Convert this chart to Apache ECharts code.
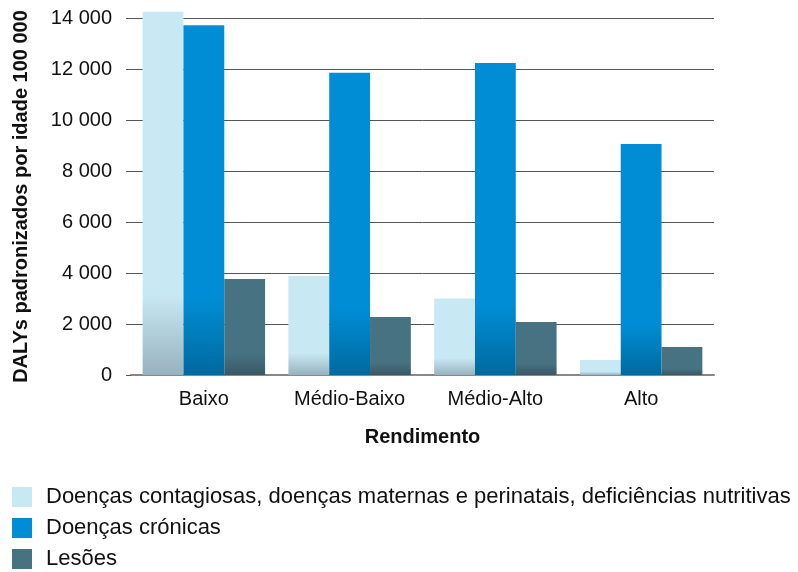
<!DOCTYPE html>
<html lang="pt">
<head>
    <meta charset="UTF-8">
    <title>DALYs por rendimento</title>
    <script src="https://cdn.jsdelivr.net/npm/echarts@6/dist/echarts.min.js"></script>
    <style>
        body { margin: 0; background: #fff; }
        #Chart1 { width: 798px; height: 572px; }
    </style>
</head>
<body>
<div id="Chart1"></div>
<script>
// data
var categories = ['Baixo', 'Médio-Baixo', 'Médio-Alto', 'Alto'];
var seriesNames = [
    'Doenças contagiosas, doenças maternas e perinatais, deficiências nutritivas',
    'Doenças crónicas',
    'Lesões'
];
var contagiosas = [14250, 3880, 3000, 590];
var cronicas = [13720, 11850, 12240, 9060];
var lesoes = [3760, 2270, 2080, 1100];
var yTicks = [0, 2000, 4000, 6000, 8000, 10000, 12000, 14000];

var topColors = ['#c8e8f4', '#008dd5', '#477282'];
var bottomColors = ['#98b2bf', '#006a9f', '#3a5866'];
var FONT = 'Liberation Sans, Arial, sans-serif';

function fade(i) {
    // bars darken in the bottom fifth
    return new echarts.graphic.LinearGradient(0, 0, 0, 1, [
        { offset: 0, color: topColors[i] },
        { offset: 0.78, color: topColors[i] },
        { offset: 1, color: bottomColors[i] }
    ]);
}

function fmt(v) {
    return String(v).replace(/\B(?=(\d{3})+(?!\d))/g, ' ');
}

var myChart1 = echarts.init(document.getElementById('Chart1'));
var values = [contagiosas, cronicas, lesoes];

var option = {
    backgroundColor: '#fff',
    animation: false,
    grid: { left: 131, right: 84, top: 18, bottom: 197 },
    legend: {
        orient: 'vertical',
        left: 12,
        top: 486,
        height: 150,
        padding: 0,
        icon: 'rect',
        itemWidth: 20,
        itemHeight: 20,
        itemGap: 9,
        textStyle: { fontFamily: FONT, fontSize: 22, lineHeight: 20, color: '#111', padding: [0, 0, 0, 9] },
        data: seriesNames.map(function (n, i) {
            return { name: n, itemStyle: { color: topColors[i] } };
        })
    },
    xAxis: {
        type: 'category',
        data: categories,
        name: 'Rendimento',
        nameLocation: 'middle',
        nameGap: 52,
        nameTextStyle: { fontFamily: FONT, fontSize: 20, fontWeight: 'bold', color: '#111' },
        axisLine: { lineStyle: { color: '#888', width: 2 } },
        axisTick: { show: false },
        axisLabel: { fontFamily: FONT, fontSize: 20, color: '#111', margin: 14 }
    },
    yAxis: {
        type: 'value',
        min: 0,
        max: 14000,
        interval: 2000,
        name: 'DALYs padronizados por idade 100 000',
        nameLocation: 'middle',
        nameGap: 100,
        nameTextStyle: { fontFamily: FONT, fontSize: 20, fontWeight: 'bold', color: '#111' },
        axisLine: { show: false },
        axisTick: { show: true, length: 5, lineStyle: { color: '#555' } },
        splitLine: { lineStyle: { color: '#555', width: 1 } },
        axisLabel: {
            fontFamily: FONT, fontSize: 20, color: '#111', margin: 19,
            formatter: function (v) { return yTicks.indexOf(v) >= 0 ? fmt(v) : ''; }
        }
    },
    series: values.map(function (arr, i) {
        return {
            name: seriesNames[i],
            type: 'bar',
            data: arr,
            clip: false,
            barGap: '0%',
            barCategoryGap: '16%',
            itemStyle: { color: fade(i) }
        };
    })
};

myChart1.setOption(option);
</script>
</body>
</html>
